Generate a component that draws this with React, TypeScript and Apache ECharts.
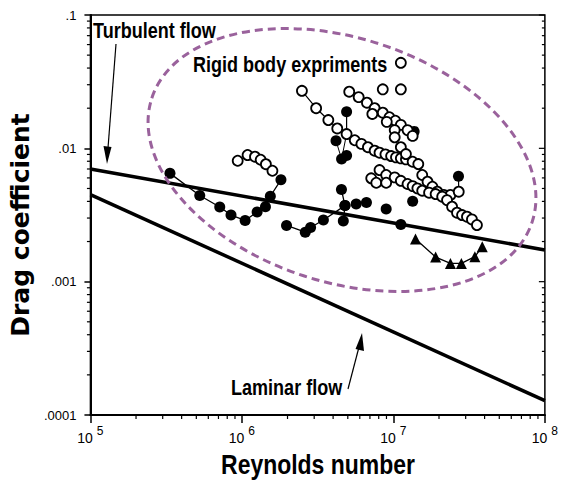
import React, { useEffect, useRef } from "react";
import * as echarts from "echarts";

// ---- axes ----
const xDecades = [1e5, 1e6, 1e7, 1e8];
const xExponents = ["5", "6", "7", "8"];
const yDecades = [1e-4, 1e-3, 1e-2, 1e-1];
const yTickLabels = [".0001", ".001", ".01", ".1"];
const minorMultipliers = [2, 3, 4, 5, 6, 7, 8, 9];
const xTitle = "Reynolds number";
const yTitle = "Drag coefficient";

// ---- reference lines ----
const turbulentX = [1e5, 1e8];
const turbulentY = [0.007, 0.00173];
const laminarX = [1e5, 1e8];
const laminarY = [0.0045, 0.000128];

// ---- filled circles, connected (left curve) ----
const filledAX = [3.35e5, 5.27e5, 7.14e5, 8.47e5, 1.05e6, 1.26e6, 1.43e6, 1.54e6, 1.81e6];
const filledAY = [6.49e-3, 4.43e-3, 3.63e-3, 3.16e-3, 2.88e-3, 3.33e-3, 3.65e-3, 4.37e-3, 5.81e-3];
// ---- filled circles, connected (middle curve) ----
const filledBX = [1.97e6, 2.62e6, 2.84e6, 3.45e6, 4.79e6];
const filledBY = [2.64e-3, 2.35e-3, 2.55e-3, 2.9e-3, 3.72e-3];
// ---- filled circles, vertical stick ----
const filledCX = [4.54e6, 4.79e6, 4.67e6];
const filledCY = [4.91e-3, 3.72e-3, 2.85e-3];
// ---- filled circles, loose ----
const filledLooseX = [5.68e6, 6.64e6, 8.96e6, 1.12e7, 1.34e7, 2.69e7, 4.18e6, 4.55e6, 4.91e6, 1.37e7, 4.91e6];
const filledLooseY = [3.82e-3, 3.92e-3, 3.51e-3, 2.68e-3, 4.01e-3, 6.17e-3, 1.14e-2, 8.32e-3, 8.84e-3, 1.34e-2, 1.88e-2];
// ---- thin connector sticks ----
const stick1X = [4.91e6, 4.91e6];
const stick1Y = [1.88e-2, 1.28e-2];
const stick2X = [2.69e7, 2.7e7];
const stick2Y = [6.17e-3, 4.73e-3];
const stick3X = [4.18e6, 4.55e6, 4.91e6];
const stick3Y = [1.14e-2, 8.32e-3, 1.28e-2];

// ---- triangles ----
const triX = [1.4e7, 1.9e7, 2.38e7, 2.81e7, 3.45e7, 3.86e7];
const triY = [2.09e-3, 1.53e-3, 1.37e-3, 1.37e-3, 1.54e-3, 1.83e-3];

// ---- open circles ----
const openAX = [9.38e5, 1.09e6, 1.22e6, 1.33e6, 1.44e6, 1.59e6];
const openAY = [8.07e-3, 8.91e-3, 8.65e-3, 8.21e-3, 7.6e-3, 6.79e-3];
const openBX = [2.49e6, 3.09e6, 3.72e6, 4.26e6, 4.91e6, 5.56e6, 6.15e6, 6.79e6, 7.52e6, 8.1e6, 8.86e6, 9.66e6, 1.04e7, 1.12e7, 1.21e7, 1.34e7, 1.46e7, 1.55e7, 1.68e7, 1.81e7, 1.95e7, 2.15e7, 2.38e7, 2.7e7];
const openBY = [2.7e-2, 2.0e-2, 1.63e-2, 1.41e-2, 1.28e-2, 1.15e-2, 1.08e-2, 1.02e-2, 9.6e-3, 9.27e-3, 9.01e-3, 8.75e-3, 8.56e-3, 8.41e-3, 8.27e-3, 7.93e-3, 7.62e-3, 6.31e-3, 5.62e-3, 5.15e-3, 4.73e-3, 4.47e-3, 4.47e-3, 4.73e-3];
const openCX = [5.11e6, 5.9e6, 6.69e6, 7.52e6, 8.51e6, 9.42e6, 1.03e7, 1.12e7, 1.24e7, 1.34e7, 7.26e6, 9.04e6, 1.02e7, 1.02e7, 1.12e7, 1.21e7];
const openCY = [2.66e-2, 2.42e-2, 2.2e-2, 2.0e-2, 1.85e-2, 1.71e-2, 1.61e-2, 1.5e-2, 1.37e-2, 1.24e-2, 1.81e-2, 1.58e-2, 1.37e-2, 1.21e-2, 1.02e-2, 9.06e-3];
const openDX = [7.14e6, 7.71e6, 8.1e6, 8.96e6, 8.96e6, 1.02e7, 1.12e7, 1.24e7, 1.34e7, 1.44e7, 1.55e7, 1.72e7, 1.9e7, 2.1e7, 2.26e7, 2.44e7, 2.63e7, 2.84e7, 3.06e7, 3.3e7, 3.56e7];
const openDY = [5.96e-3, 5.52e-3, 6.87e-3, 6.31e-3, 5.52e-3, 6.06e-3, 5.71e-3, 5.4e-3, 5.21e-3, 5.01e-3, 4.81e-3, 4.65e-3, 4.54e-3, 4.34e-3, 4.09e-3, 3.65e-3, 3.29e-3, 3.16e-3, 3.07e-3, 2.93e-3, 2.66e-3];
const openLooseX = [1.12e7, 8.51e6, 1.12e7];
const openLooseY = [4.38e-2, 2.77e-2, 2.77e-2];

const SANS = "'Liberation Sans', Arial, sans-serif";
const WIDE = "'DejaVu Sans', Verdana, sans-serif";
const CONDENSE = 0.82;

const zip = (xs: number[], ys: number[]) => xs.map((x, i) => [x, ys[i]]);

export default function App() {
  const ref = useRef<HTMLDivElement>(null);
  useEffect(() => {
    if (!ref.current) return;
    const chart = echarts.init(ref.current, undefined, { renderer: "svg" });

    const xMin = xDecades[0];
    const xMax = xDecades[xDecades.length - 1];
    const yMin = yDecades[0];
    const yMax = yDecades[yDecades.length - 1];

    // minor tick positions (kind 0: bottom x, 1: left y, 2: right y minor, 3: right y major)
    const tickData: number[][] = [];
    xDecades.slice(0, -1).forEach((d) => minorMultipliers.forEach((m) => tickData.push([d * m, yMin, 0])));
    yDecades.slice(0, -1).forEach((d) => minorMultipliers.forEach((m) => {
      tickData.push([xMin, d * m, 1]);
      tickData.push([xMax, d * m, 2]);
    }));
    yDecades.forEach((d) => tickData.push([xMax, d, 3]));

    const expIndex = (v: number) => xDecades.findIndex((d) => Math.abs(Math.log10(d) - Math.log10(v)) < 1e-6);
    const yIndex = (v: number) => yDecades.findIndex((d) => Math.abs(Math.log10(d) - Math.log10(v)) < 1e-6);

    const filledStyle = { color: "#000", opacity: 1 };
    const openStyle = { color: "#fff", borderColor: "#000", borderWidth: 1.8, opacity: 1 };
    const FS = 11;
    const OS = 10;

    const label = (text: string, x: number, y: number, size: number, align = "left") => ({
      type: "text",
      x,
      y,
      scaleX: CONDENSE,
      style: { text, fontFamily: SANS, fontWeight: "bold", fontSize: size, fill: "#000", textAlign: align, textVerticalAlign: "middle" },
      z: 101,
    });

    chart.setOption({
      animation: false,
      backgroundColor: "#fff",
      grid: { left: 88, right: 14, top: 15, bottom: 65, show: true, borderColor: "#000", borderWidth: 1.5, backgroundColor: "transparent" },
      xAxis: {
        type: "log",
        logBase: 10,
        min: xMin,
        max: xMax,
        axisLine: { show: true, lineStyle: { color: "#000", width: 2 } },
        axisTick: { show: true, length: 8, lineStyle: { color: "#000", width: 1.5 } },
        splitLine: { show: false },
        axisLabel: {
          margin: 10,
          formatter: (v: number) => {
            const i = expIndex(v);
            return i >= 0 ? `{b|10}{s|${xExponents[i]}}` : "";
          },
          rich: {
            b: { fontFamily: SANS, fontSize: 14, color: "#000", lineHeight: 20, verticalAlign: "bottom" },
            s: { fontFamily: SANS, fontSize: 12, color: "#000", lineHeight: 20, verticalAlign: "top", padding: [0, 0, 0, 4] },
          },
        },
      },
      yAxis: {
        type: "log",
        logBase: 10,
        min: yMin,
        max: yMax,
        name: yTitle,
        nameLocation: "middle",
        nameRotate: 90,
        nameGap: 47,
        nameTextStyle: { fontFamily: WIDE, fontWeight: "bold", fontSize: 25, color: "#000", padding: [0, 20, 0, 0] },
        axisLine: { show: true, lineStyle: { color: "#000", width: 2 } },
        axisTick: { show: true, length: 6, lineStyle: { color: "#000", width: 1.5 } },
        splitLine: { show: false },
        axisLabel: {
          margin: 14,
          fontFamily: SANS,
          fontSize: 13,
          color: "#000",
          formatter: (v: number) => {
            const i = yIndex(v);
            return i >= 0 ? yTickLabels[i] : "";
          },
        },
      },
      series: [
        {
          type: "custom",
          clip: false,
          silent: true,
          data: tickData,
          renderItem: (params: any, api: any) => {
            const p = api.coord([api.value(0), api.value(1)]);
            const kind = api.value(2);
            let shape;
            if (kind === 0) shape = { x1: p[0], y1: p[1], x2: p[0], y2: p[1] + 4 };
            else if (kind === 1) shape = { x1: p[0] - 3.5, y1: p[1], x2: p[0], y2: p[1] };
            else if (kind === 2) shape = { x1: p[0] - 3, y1: p[1], x2: p[0], y2: p[1] };
            else shape = { x1: p[0] - 6, y1: p[1], x2: p[0], y2: p[1] };
            return { type: "line", shape, style: { stroke: "#000", lineWidth: 1.2 } };
          },
        },
        { type: "line", data: zip(turbulentX, turbulentY), symbol: "none", lineStyle: { color: "#000", width: 3.5 }, z: 2 },
        { type: "line", data: zip(laminarX, laminarY), symbol: "none", lineStyle: { color: "#000", width: 3.5 }, z: 2 },
        { type: "line", data: zip(stick1X, stick1Y), symbol: "none", lineStyle: { color: "#000", width: 1.2 }, z: 3 },
        { type: "line", data: zip(stick2X, stick2Y), symbol: "none", lineStyle: { color: "#000", width: 1.2 }, z: 3 },
        { type: "line", data: zip(stick3X, stick3Y), symbol: "none", lineStyle: { color: "#000", width: 1 }, z: 3 },
        { type: "line", data: zip(filledAX, filledAY), symbol: "circle", symbolSize: FS, itemStyle: filledStyle, lineStyle: { color: "#000", width: 1.3 }, z: 3 },
        { type: "line", data: zip(filledBX, filledBY), symbol: "circle", symbolSize: FS, itemStyle: filledStyle, lineStyle: { color: "#000", width: 1.3 }, z: 3 },
        { type: "line", data: zip(filledCX, filledCY), symbol: "circle", symbolSize: FS, itemStyle: filledStyle, lineStyle: { color: "#000", width: 1.3 }, z: 3 },
        { type: "scatter", data: zip(filledLooseX, filledLooseY), symbol: "circle", symbolSize: FS, itemStyle: filledStyle, z: 3 },
        { type: "line", data: zip(triX, triY), symbol: "triangle", symbolSize: 11, itemStyle: filledStyle, lineStyle: { color: "#000", width: 1.3 }, z: 3 },
        { type: "scatter", data: zip(openAX, openAY), symbol: "circle", symbolSize: OS, itemStyle: openStyle, z: 4 },
        { type: "line", data: zip(openBX, openBY), symbol: "circle", symbolSize: OS, showAllSymbol: true, itemStyle: openStyle, lineStyle: { color: "#000", width: 1.2 }, z: 4 },
        { type: "scatter", data: zip(openCX, openCY), symbol: "circle", symbolSize: OS, itemStyle: openStyle, z: 4 },
        { type: "scatter", data: zip(openDX, openDY), symbol: "circle", symbolSize: OS, itemStyle: openStyle, z: 4 },
        { type: "scatter", data: zip(openLooseX, openLooseY), symbol: "circle", symbolSize: OS, itemStyle: openStyle, z: 4 },
      ],
      graphic: [
        {
          type: "ellipse",
          x: 342,
          y: 160,
          rotation: -18 * Math.PI / 180,
          shape: { cx: 0, cy: 0, rx: 200, ry: 122 },
          style: { fill: "none", stroke: "#9a629c", lineWidth: 3, lineDash: [8, 5] },
          z: 100,
          silent: true,
        },
        label("Turbulent flow", 93, 30, 22),
        label("Rigid body expriments", 193, 64, 22),
        label("Laminar flow", 231, 387, 22),
        label(xTitle, 318, 464, 28, "center"),
        { type: "line", shape: { x1: 116, y1: 44, x2: 108, y2: 148 }, style: { stroke: "#000", lineWidth: 1.2 }, z: 101 },
        { type: "polygon", shape: { points: [[107, 164], [103.5, 146], [111.5, 147]] }, style: { fill: "#000" }, z: 101 },
        { type: "line", shape: { x1: 348, y1: 389, x2: 359, y2: 347 }, style: { stroke: "#000", lineWidth: 1.2 }, z: 101 },
        { type: "polygon", shape: { points: [[362, 333], [355.5, 349], [364, 351]] }, style: { fill: "#000" }, z: 101 },
      ],
    });
    return () => chart.dispose();
  }, []);
  return <div ref={ref} style={{ position: "fixed", left: 0, top: 0, width: 561, height: 480 }} />;
}
